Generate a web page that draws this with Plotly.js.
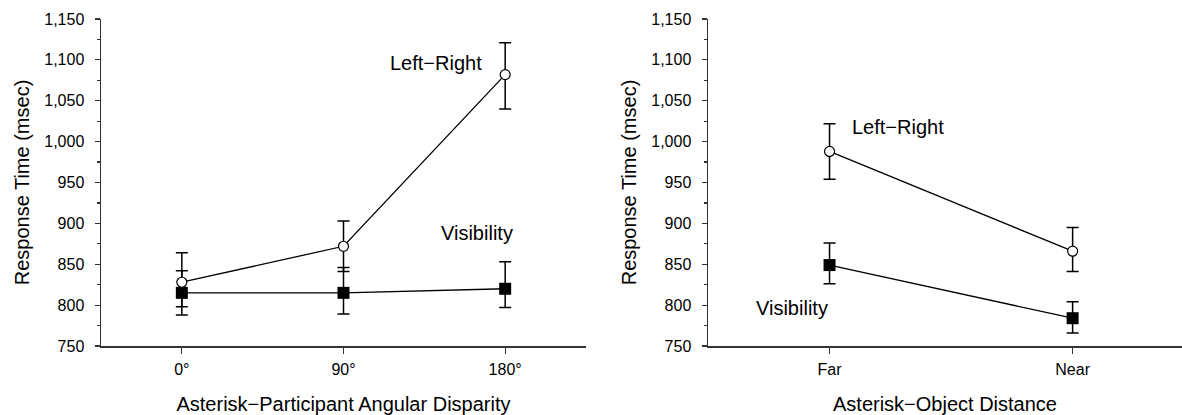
<!DOCTYPE html>
<html>
<head>
<meta charset="utf-8">
<script src="https://cdn.plot.ly/plotly-3.0.1.min.js"></script>
<style>
  html, body { margin: 0; padding: 0; background: #fff; overflow: hidden; }
  #chart { width: 1182px; height: 415px; }
</style>
</head>
<body>
<div id="chart"></div>
<script>
// ---- Data ----
const angleVals = [0, 90, 180];
const angleLabels = ['0°', '90°', '180°'];
const lrAngle = [828, 872, 1082];
const lrAnglePlus = [36, 31, 39];
const lrAngleMinus = [30, 31, 42];
const visAngle = [815, 815, 820];
const visAnglePlus = [27, 31, 33];
const visAngleMinus = [27, 26, 23];

const distCats = ['Far', 'Near'];
const lrDist = [988, 866];
const lrDistPlus = [34, 29];
const lrDistMinus = [34, 25];
const visDist = [849, 784];
const visDistPlus = [27, 20];
const visDistMinus = [23, 18];

const yTickVals = [750, 800, 850, 900, 950, 1000, 1050, 1100, 1150];

const FONT = 'Liberation Sans, Arial, Helvetica, sans-serif';
const AX = '#333333';

function circleTrace(x, y, p, m, xa, ya) {
  return {
    x: x, y: y, xaxis: xa, yaxis: ya, type: 'scatter', mode: 'lines+markers',
    line: {color: '#000', width: 1.3},
    marker: {symbol: 'circle', size: 10, color: '#fff', line: {color: '#000', width: 1.2}},
    error_y: {type: 'data', symmetric: false, array: p, arrayminus: m, color: '#000', thickness: 1.5, width: 6},
    showlegend: false, hoverinfo: 'skip'
  };
}
function squareTrace(x, y, p, m, xa, ya) {
  return {
    x: x, y: y, xaxis: xa, yaxis: ya, type: 'scatter', mode: 'lines+markers',
    line: {color: '#000', width: 1.3},
    marker: {symbol: 'square', size: 12, color: '#000', line: {color: '#000', width: 0}},
    error_y: {type: 'data', symmetric: false, array: p, arrayminus: m, color: '#000', thickness: 1.5, width: 6},
    showlegend: false, hoverinfo: 'skip'
  };
}

const data = [
  squareTrace(angleVals, visAngle, visAnglePlus, visAngleMinus, 'x', 'y'),
  circleTrace(angleVals, lrAngle, lrAnglePlus, lrAngleMinus, 'x', 'y'),
  squareTrace(distCats, visDist, visDistPlus, visDistMinus, 'x2', 'y2'),
  circleTrace(distCats, lrDist, lrDistPlus, lrDistMinus, 'x2', 'y2')
];

const yAxisBase = {
  range: [750, 1150], tickvals: yTickVals, tickformat: ',d',
  showgrid: false, zeroline: false, showline: true, linecolor: AX, linewidth: 1.5,
  ticks: 'outside', ticklen: 5, tickwidth: 1.2, tickcolor: AX, ticklabelstandoff: 7,
  tickfont: {family: FONT, size: 16, color: '#000'},
  minor: {dtick: 25, tick0: 750, ticks: 'outside', ticklen: 3, tickcolor: AX, tickwidth: 1.2, showgrid: false},
  title: {text: 'Response Time (msec)', font: {family: FONT, size: 20, color: '#000'}, standoff: 9},
  fixedrange: true
};
const xAxisBase = {
  showgrid: false, zeroline: false, showline: true, linecolor: AX, linewidth: 1.5,
  ticks: 'outside', ticklen: 6, tickwidth: 1.2, tickcolor: AX, ticklabelstandoff: 2,
  tickfont: {family: FONT, size: 16, color: '#000'},
  fixedrange: true
};

const layout = {
  width: 1182, height: 415,
  margin: {l: 0, r: 0, t: 19, b: 69},
  paper_bgcolor: '#fff', plot_bgcolor: '#fff',
  font: {family: FONT, color: '#000'},
  xaxis: Object.assign({}, xAxisBase, {
    domain: [101/1182, 586/1182], range: [-45, 225],
    tickvals: angleVals, ticktext: angleLabels, anchor: 'y',
    title: {text: 'Asterisk\u2212Participant Angular Disparity', font: {family: FONT, size: 20, color: '#000'}, standoff: 25}
  }),
  yaxis: Object.assign({}, yAxisBase, {anchor: 'x'}),
  xaxis2: Object.assign({}, xAxisBase, {
    domain: [708/1182, 1], type: 'category', range: [-0.5, 1.45],
    categoryorder: 'array', categoryarray: distCats, anchor: 'y2',
    title: {text: 'Asterisk\u2212Object Distance', font: {family: FONT, size: 20, color: '#000'}, standoff: 25}
  }),
  yaxis2: Object.assign({}, yAxisBase, {anchor: 'x2'}),
  annotations: [
    {xref: 'x', yref: 'y', x: 141.5, y: 1096, text: 'Left\u2212Right', showarrow: false,
     xanchor: 'center', yanchor: 'middle', font: {family: FONT, size: 20, color: '#000'}},
    {xref: 'x', yref: 'y', x: 164.5, y: 888, text: 'Visibility', showarrow: false,
     xanchor: 'center', yanchor: 'middle', font: {family: FONT, size: 20, color: '#000'}},
    {xref: 'x2', yref: 'y2', x: 0.086, y: 1018, text: 'Left\u2212Right', showarrow: false,
     xanchor: 'left', yanchor: 'middle', font: {family: FONT, size: 20, color: '#000'}},
    {xref: 'x2', yref: 'y2', x: -0.309, y: 797, text: 'Visibility', showarrow: false,
     xanchor: 'left', yanchor: 'middle', font: {family: FONT, size: 20, color: '#000'}}
  ]
};

Plotly.newPlot('chart', data, layout, {displayModeBar: false, staticPlot: true});
</script>
</body>
</html>
